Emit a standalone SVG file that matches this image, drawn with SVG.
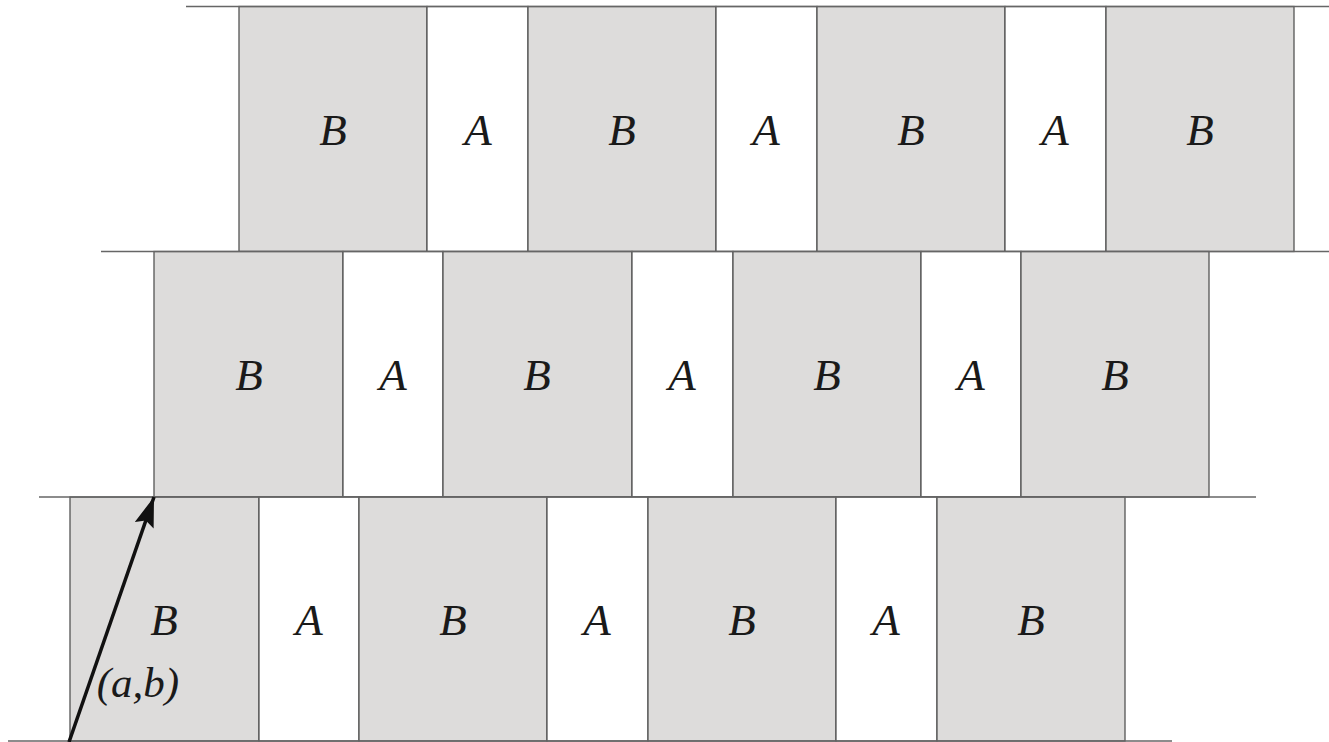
<svg xmlns="http://www.w3.org/2000/svg" width="1329" height="742" viewBox="0 0 1329 742">
<style>
.b{fill:#dddcdb;stroke:#555;stroke-width:1.3}
.a{fill:#fff;stroke:#555;stroke-width:1.3}
.h{stroke:#666;stroke-width:1.5;fill:none}
.t{font-family:"Liberation Serif","Times New Roman",serif;font-style:italic;font-size:45px;fill:#1a1a1a;text-anchor:middle}
</style>
<defs>
<marker id="ah2" viewBox="0 0 30 20" refX="30" refY="10" markerWidth="30" markerHeight="20" markerUnits="userSpaceOnUse" orient="auto">
<path d="M0,0 L30,10 L0,20 L5,10 z" fill="#111"/>
</marker>
</defs>
<g id="row-top">
<g id="t1"><rect class="b" x="239" y="6.5" width="188" height="245"/><text class="t" x="333" y="145">B</text></g>
<g id="t2"><rect class="a" x="427" y="6.5" width="101" height="245"/><text class="t" x="478" y="145">A</text></g>
<g id="t3"><rect class="b" x="528" y="6.5" width="188" height="245"/><text class="t" x="622" y="145">B</text></g>
<g id="t4"><rect class="a" x="716" y="6.5" width="101" height="245"/><text class="t" x="766" y="145">A</text></g>
<g id="t5"><rect class="b" x="817" y="6.5" width="188" height="245"/><text class="t" x="911" y="145">B</text></g>
<g id="t6"><rect class="a" x="1005" y="6.5" width="101" height="245"/><text class="t" x="1055" y="145">A</text></g>
<g id="t7"><rect class="b" x="1106" y="6.5" width="188" height="245"/><text class="t" x="1200" y="145">B</text></g>
</g>
<g id="row-mid">
<g id="m1"><rect class="b" x="154" y="251.5" width="189" height="245.5"/><text class="t" x="249" y="390">B</text></g>
<g id="m2"><rect class="a" x="343" y="251.5" width="100" height="245.5"/><text class="t" x="393" y="390">A</text></g>
<g id="m3"><rect class="b" x="443" y="251.5" width="189" height="245.5"/><text class="t" x="537" y="390">B</text></g>
<g id="m4"><rect class="a" x="632" y="251.5" width="101" height="245.5"/><text class="t" x="682" y="390">A</text></g>
<g id="m5"><rect class="b" x="733" y="251.5" width="188" height="245.5"/><text class="t" x="827" y="390">B</text></g>
<g id="m6"><rect class="a" x="921" y="251.5" width="100" height="245.5"/><text class="t" x="971" y="390">A</text></g>
<g id="m7"><rect class="b" x="1021" y="251.5" width="188" height="245.5"/><text class="t" x="1115" y="390">B</text></g>
</g>
<g id="row-bot">
<g id="b1"><rect class="b" x="70" y="497" width="189" height="244"/><text class="t" x="164" y="635">B</text></g>
<g id="b2"><rect class="a" x="259" y="497" width="100" height="244"/><text class="t" x="309" y="635">A</text></g>
<g id="b3"><rect class="b" x="359" y="497" width="188" height="244"/><text class="t" x="453" y="635">B</text></g>
<g id="b4"><rect class="a" x="547" y="497" width="101" height="244"/><text class="t" x="597" y="635">A</text></g>
<g id="b5"><rect class="b" x="648" y="497" width="188" height="244"/><text class="t" x="742" y="635">B</text></g>
<g id="b6"><rect class="a" x="836" y="497" width="101" height="244"/><text class="t" x="886" y="635">A</text></g>
<g id="b7"><rect class="b" x="937" y="497" width="188" height="244"/><text class="t" x="1031" y="635">B</text></g>
</g>
<g id="lines">
<line class="h" x1="186" y1="6.5" x2="1329" y2="6.5"/>
<line class="h" x1="101" y1="251.5" x2="1329" y2="251.5"/>
<line class="h" x1="39" y1="497" x2="1256" y2="497"/>
<line class="h" x1="8" y1="741" x2="1172" y2="741" stroke="#999"/>
</g>
<g id="connectors">
<line x1="69" y1="742" x2="154" y2="497" stroke="#111" stroke-width="3.5" marker-end="url(#ah2)"/>
<text x="138" y="697" style="font-family:'Liberation Serif','Times New Roman',serif;font-style:italic;font-size:43px;fill:#1a1a1a;text-anchor:middle">(a,b)</text>
</g>
</svg>
